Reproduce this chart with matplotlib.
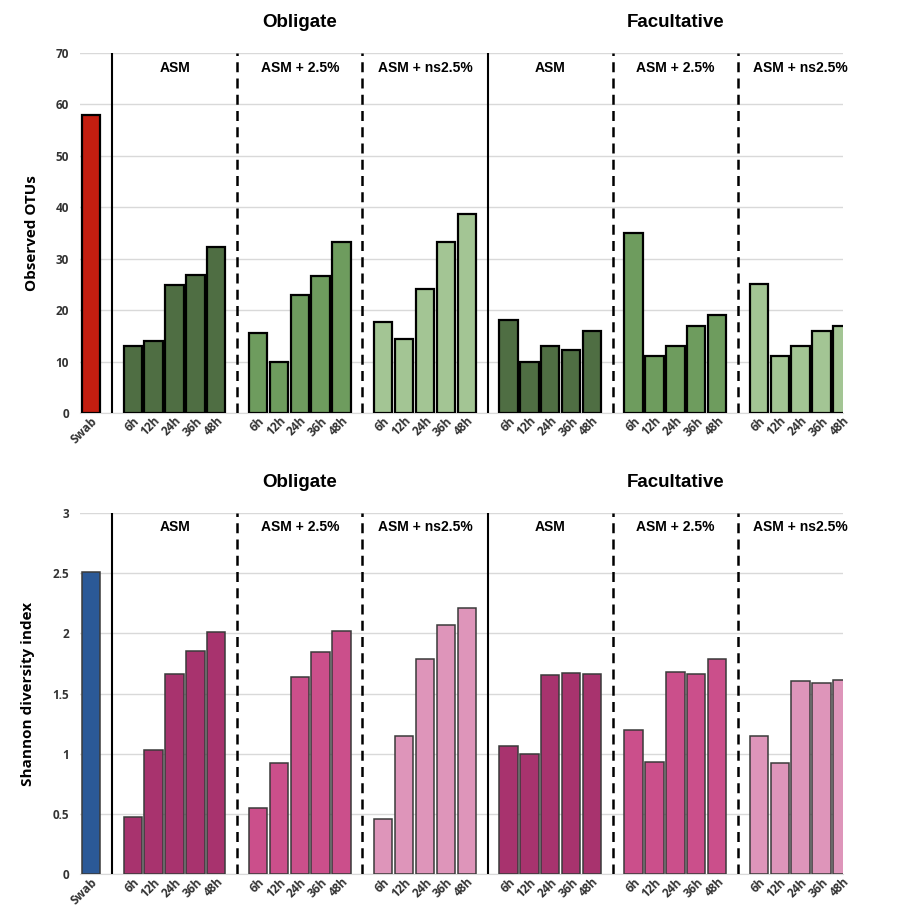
import numpy as np
import matplotlib
matplotlib.use("Agg")
import matplotlib.pyplot as plt

# time points and treatment groups
times = ['6h', '12h', '24h', '36h', '48h']
groups = ['ASM', 'ASM + 2.5%', 'ASM + ns2.5%']
panels = ['Obligate', 'Facultative']

# observed OTUs
swab_otu = 58.0
otu_obligate = [
    [13.1, 13.9, 24.9, 26.9, 32.3],
    [15.5, 10.0, 22.9, 26.6, 33.2],
    [17.6, 14.3, 24.2, 33.2, 38.6],
]
otu_facultative = [
    [18.1, 10.0, 13.1, 12.2, 15.9],
    [35.0, 11.0, 13.1, 17.0, 19.0],
    [25.0, 11.0, 13.1, 15.9, 17.0],
]

# Shannon diversity index
swab_shannon = 2.51
sh_obligate = [
    [0.47, 1.03, 1.66, 1.85, 2.01],
    [0.55, 0.925, 1.64, 1.845, 2.02],
    [0.457, 1.147, 1.785, 2.07, 2.21],
]
sh_facultative = [
    [1.06, 1.00, 1.65, 1.67, 1.66],
    [1.20, 0.93, 1.68, 1.66, 1.79],
    [1.15, 0.92, 1.60, 1.59, 1.61],
]

green = ['#4f6e43', '#6e9c5e', '#a3c594']
pink = ['#a8336e', '#cb4f8b', '#de95ba']

fig = plt.figure(figsize=(8.97, 9.08), dpi=100)
ax_top = fig.add_axes([0.0892, 0.5452, 0.8506, 0.3964])
ax_bot = fig.add_axes([0.0892, 0.0374, 0.8506, 0.3976])


def draw(ax, swab_val, swab_col, obl, fac, cols, ymax, ystep, ylabel, lab_y,
         edge, lw):
    ax.bar(0, swab_val, width=0.88, color=swab_col, edgecolor=edge,
           linewidth=lw, zorder=3)
    xt = [0]
    xl = ['Swab']
    for p, data in enumerate([obl, fac]):
        for g in range(3):
            start = 2 + p * 18 + g * 6
            xs = np.arange(start, start + 5)
            ax.bar(xs, data[g], width=0.88, color=cols[g], edgecolor=edge,
                   linewidth=lw, zorder=3)
            xt += list(xs)
            xl += times
            ax.text(start + 2, lab_y, groups[g], ha='center', va='center',
                    fontsize=10, fontweight='bold', family='Liberation Sans')
            if g > 0:
                ax.plot([start - 1, start - 1], [0, ymax], color='black',
                        lw=1.8, ls=(0, (4, 2.5)), zorder=4)
        ax.plot([1 + 18 * p, 1 + 18 * p], [0, ymax], color='black', lw=1.5,
                zorder=4)
    ax.set_xlim(-0.53, 36.03)
    ax.set_ylim(0, ymax)
    ticks = np.arange(0, ymax + ystep / 2, ystep)
    ax.set_yticks(ticks)
    ax.set_yticklabels(['%g' % v for v in ticks], fontsize=8.5,
                       fontweight='bold', color='#333333', family='Open Sans')
    ax.set_xticks(xt)
    ax.set_xticklabels(xl, rotation=45, ha='right', rotation_mode='anchor',
                       fontsize=8.6, fontweight='bold', color='#333333',
                       family='Open Sans')
    ax.tick_params(length=0, pad=8)
    ax.tick_params(axis='x', pad=1)
    ax.grid(axis='y', color='#d9d9d9', lw=1, zorder=0)
    for s in ['top', 'right', 'left']:
        ax.spines[s].set_visible(False)
    ax.spines['bottom'].set_color('#d9d9d9')
    ax.set_ylabel(ylabel, fontsize=11, fontweight='bold', family='Open Sans',
                  labelpad=12)
    for p, name in enumerate(panels):
        ax.text(10 + 18 * p, 1.06, name, transform=ax.get_xaxis_transform(),
                ha='center', va='bottom', fontsize=13.5, fontweight='bold',
                family='Liberation Sans')


draw(ax_top, swab_otu, '#c41e10', otu_obligate, otu_facultative, green,
     70, 10, 'Observed OTUs', 67.1, 'black', 1.6)
draw(ax_bot, swab_shannon, '#2b5997', sh_obligate, sh_facultative, pink,
     3, 0.5, 'Shannon diversity index', 2.88, '#3a3a3a', 1.1)

fig.savefig('out.png', dpi=100)
